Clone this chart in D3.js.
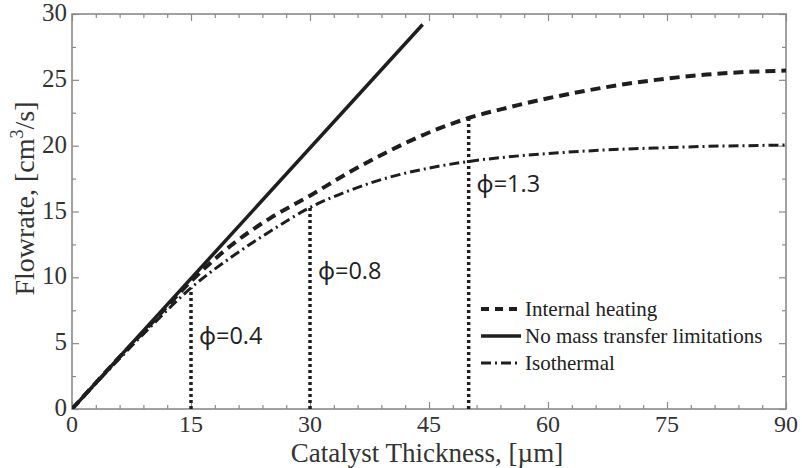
<!DOCTYPE html>
<html>
<head>
<meta charset="utf-8">
<script src="https://cdn.jsdelivr.net/npm/d3@7"></script>
<style>
  html, body { margin: 0; padding: 0; background: #fff; }
  svg { display: block; }
</style>
</head>
<body>
<svg id="chart" width="802" height="468"></svg>
<script>
// Catalyst thickness [µm] and flowrate [cm^3/s]
const noLimitX = [0, 44.2];
const noLimitY = [0, 29.2];

const heatingX = [0, 5, 10, 15, 20, 25, 30, 35, 40, 45, 50, 55, 60, 65, 70, 75, 80, 85, 90];
const heatingY = [0, 3.3, 6.5, 9.7, 12.4, 14.5, 16.2, 18.0, 19.6, 21.0, 22.1, 22.9, 23.6, 24.2, 24.7, 25.1, 25.4, 25.6, 25.7];

const isoX = [0, 5, 10, 15, 20, 25, 30, 35, 40, 45, 50, 55, 60, 65, 70, 75, 80, 85, 90];
const isoY = [0, 3.2, 6.3, 9.2, 11.5, 13.5, 15.3, 16.6, 17.6, 18.3, 18.8, 19.15, 19.4, 19.6, 19.75, 19.85, 19.95, 20.0, 20.05];

// Thiele-modulus markers: x position and the flowrate they reach
const phiX = [15, 30, 50];
const phiTop = [9.2, 15.3, 22.1];
const phiLabels = ["ϕ=0.4", "ϕ=0.8", "ϕ=1.3"];
const phiLabelPos = [[16.0, 4.95], [31.0, 9.85], [51.0, 16.45]];

const xTicks = [0, 15, 30, 45, 60, 75, 90];
const yTicks = [0, 5, 10, 15, 20, 25, 30];

const legendLabels = ["Internal heating", "No mass transfer limitations", "Isothermal"];

const svg = d3.select("#chart");
const m = { left: 72, right: 16, top: 14, bottom: 59 };
const W = 802, H = 468;
const x = d3.scaleLinear().domain([0, 90]).range([m.left, W - m.right]);
const y = d3.scaleLinear().domain([0, 30]).range([H - m.bottom, m.top]);

const axisColor = "#8a8a8a";
const ink = "#1e1e1e";
const serif = "'Liberation Serif', 'Times New Roman', serif";

// frame
svg.append("rect")
  .attr("x", x(0)).attr("y", y(30))
  .attr("width", x(90) - x(0)).attr("height", y(0) - y(30))
  .attr("fill", "none").attr("stroke", axisColor).attr("stroke-width", 1.6);

// inward ticks on all four sides
const xMinor = d3.range(0, 90.001, 3).filter(v => v % 15 !== 0);
const yMinor = d3.range(2.5, 30, 5);
function ticks(g, axis) { g.call(axis); g.select(".domain").remove(); g.selectAll("line").attr("stroke", axisColor).attr("stroke-width", 1.2); g.selectAll("text").remove(); }

svg.append("g").attr("transform", `translate(0,${y(0)})`).call(ticks, d3.axisBottom(x).tickValues(xTicks).tickSize(-7));
svg.append("g").attr("transform", `translate(0,${y(0)})`).call(ticks, d3.axisBottom(x).tickValues(xMinor).tickSize(-4));
svg.append("g").attr("transform", `translate(0,${y(30)})`).call(ticks, d3.axisTop(x).tickValues(xTicks).tickSize(-7));
svg.append("g").attr("transform", `translate(0,${y(30)})`).call(ticks, d3.axisTop(x).tickValues(xMinor).tickSize(-4));
svg.append("g").attr("transform", `translate(${x(0)},0)`).call(ticks, d3.axisLeft(y).tickValues(yTicks).tickSize(-7));
svg.append("g").attr("transform", `translate(${x(0)},0)`).call(ticks, d3.axisLeft(y).tickValues(yMinor).tickSize(-4));
svg.append("g").attr("transform", `translate(${x(90)},0)`).call(ticks, d3.axisRight(y).tickValues(yTicks).tickSize(-7));
svg.append("g").attr("transform", `translate(${x(90)},0)`).call(ticks, d3.axisRight(y).tickValues(yMinor).tickSize(-4));

// tick labels
svg.append("g").selectAll("text").data(xTicks).join("text")
  .attr("x", d => x(d)).attr("y", y(0) + 23)
  .attr("text-anchor", "middle")
  .attr("font-family", serif).attr("font-size", 24).attr("fill", "#333")
  .text(d => d);
svg.append("g").selectAll("text").data(yTicks).join("text")
  .attr("x", x(0) - 5).attr("y", d => y(d) + 7)
  .attr("text-anchor", "end")
  .attr("font-family", serif).attr("font-size", 25).attr("fill", "#333")
  .text(d => d);

// axis titles
svg.append("text")
  .attr("x", 427).attr("y", 462)
  .attr("text-anchor", "middle")
  .attr("font-family", serif).attr("font-size", 27).attr("fill", "#333")
  .text("Catalyst Thickness, [µm]");
const yl = svg.append("text")
  .attr("transform", `translate(34,${(y(0) + y(30)) / 2 - 13}) rotate(-90)`)
  .attr("text-anchor", "middle")
  .attr("font-family", serif).attr("font-size", 28).attr("fill", "#333");
yl.append("tspan").text("Flowrate, [cm");
yl.append("tspan").attr("font-size", 18).attr("dy", -11).text("3");
yl.append("tspan").attr("dy", 11).text("/s]");

// clip for curves
svg.append("clipPath").attr("id", "plotclip").append("rect")
  .attr("x", x(0)).attr("y", y(30)).attr("width", x(90) - x(0)).attr("height", y(0) - y(30));

const line = d3.line().x(d => x(d[0])).y(d => y(d[1])).curve(d3.curveMonotoneX);
const plot = svg.append("g").attr("clip-path", "url(#plotclip)");

// Thiele-modulus markers
plot.selectAll("line.phi").data(phiX).join("line").attr("class", "phi")
  .attr("x1", d => x(d)).attr("x2", d => x(d))
  .attr("y1", y(0)).attr("y2", (d, i) => y(phiTop[i]))
  .attr("stroke", ink).attr("stroke-width", 3.5).attr("stroke-dasharray", "3,3");

const styles = {
  heating: { dash: "10,6", width: 4 },
  solid: { dash: null, width: 3.5 },
  iso: { dash: "10,4,2,4", width: 3 }
};

plot.append("path").datum(d3.zip(isoX, isoY)).attr("d", line)
  .attr("fill", "none").attr("stroke", ink).attr("stroke-width", styles.iso.width)
  .attr("stroke-dasharray", styles.iso.dash);
plot.append("path").datum(d3.zip(heatingX, heatingY)).attr("d", line)
  .attr("fill", "none").attr("stroke", ink).attr("stroke-width", styles.heating.width)
  .attr("stroke-dasharray", styles.heating.dash);
plot.append("path").datum(d3.zip(noLimitX, noLimitY)).attr("d", d3.line().x(d => x(d[0])).y(d => y(d[1])))
  .attr("fill", "none").attr("stroke", ink).attr("stroke-width", styles.solid.width);

// phi labels
svg.append("g").selectAll("text").data(phiLabels).join("text")
  .attr("x", (d, i) => x(phiLabelPos[i][0])).attr("y", (d, i) => y(phiLabelPos[i][1]))
  .attr("font-family", "'Open Sans', 'Noto Sans', sans-serif").attr("font-size", 23.5).attr("fill", "#222")
  .text(d => d);

// legend
const legendStyles = [styles.heating, styles.solid, styles.iso];
const lg = svg.append("g").attr("transform", "translate(481,309)");
legendLabels.forEach((t, i) => {
  const row = lg.append("g").attr("transform", `translate(0,${i * 27})`);
  row.append("line").attr("x1", 0).attr("x2", 40).attr("y1", 0).attr("y2", 0)
    .attr("stroke", ink).attr("stroke-width", legendStyles[i].width)
    .attr("stroke-dasharray", i === 0 ? "8,6" : legendStyles[i].dash);
  row.append("text").attr("x", 44).attr("y", 6.5)
    .attr("font-family", serif).attr("font-size", 21).attr("fill", "#222").text(t);
});
</script>
</body>
</html>
